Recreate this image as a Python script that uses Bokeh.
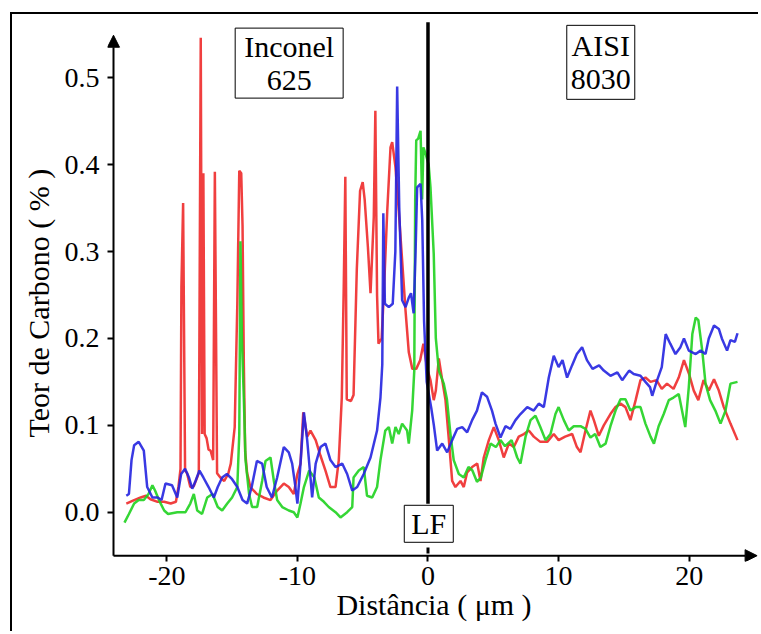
from bokeh.plotting import figure
from bokeh.models import Range1d, FixedTicker, Label, Arrow, NormalHead, Title
from bokeh.embed import file_html
from bokeh.resources import INLINE

# ---------------- data ----------------
red_x = [-23.1, -22.5, -22.0, -21.6, -21.25, -20.7, -20.2, -19.7, -19.3, -19.1, -18.95, -18.88, -18.75, -18.6,
         -18.45, -18.2, -17.93, -17.55, -17.4, -17.3, -17.2, -17.1, -16.95, -16.8, -16.65, -16.45, -16.32,
         -16.15, -15.9, -15.6, -15.3, -15.1, -14.8, -14.6, -14.45, -14.3, -14.2, -14.1, -14.0, -13.85, -13.6,
         -13.1, -12.6, -12.06, -11.55, -11.04, -10.66, -10.28, -10.0, -9.76, -9.55, -9.25, -9.0, -8.6, -8.23,
         -7.85, -7.47, -7.08, -6.83, -6.6, -6.45, -6.33, -6.22, -5.9, -5.7, -5.45, -5.2, -5.0, -4.85, -4.6,
         -4.4, -4.15, -4.03, -3.9, -3.79, -3.55, -3.38, -3.12, -2.87, -2.74, -2.49, -2.24, -1.98, -1.72, -1.47,
         -1.2, -0.9, -0.6, -0.35, -0.06, 0.19, 0.44, 0.6, 0.83, 1.09, 1.34, 1.6, 1.85, 2.1, 2.49, 2.74, 3.0,
         3.38, 3.77, 4.02, 4.27, 4.66, 5.04, 5.42, 5.8, 6.19, 6.57, 6.95, 7.34, 7.72, 8.1, 8.6, 9.13, 9.63,
         10.0, 10.5, 11.04, 11.4, 11.68, 12.06, 12.44, 12.7, 13.08, 13.46, 13.97, 14.36, 14.74, 15.12, 15.5,
         15.9, 16.27, 16.65, 17.04, 17.5, 17.9, 18.3, 18.8, 19.2, 19.6, 19.97, 20.35, 20.7, 21.1, 21.5, 21.9,
         22.27, 22.65, 23.16, 23.7]
red_y = [0.010, 0.014, 0.017, 0.019, 0.015, 0.012, 0.012, 0.010, 0.012, 0.030, 0.050, 0.260, 0.356, 0.048,
         0.045, 0.029, 0.030, 0.045, 0.546, 0.090, 0.390, 0.090, 0.085, 0.072, 0.071, 0.060, 0.392,
         0.045, 0.040, 0.036, 0.044, 0.056, 0.098, 0.240, 0.393, 0.390, 0.330, 0.170, 0.070, 0.045, 0.029,
         0.021, 0.017, 0.014, 0.025, 0.033, 0.029, 0.021, 0.044, 0.056, 0.115, 0.087, 0.094, 0.083, 0.065,
         0.048, 0.029, 0.029, 0.060, 0.132, 0.260, 0.386, 0.130, 0.128, 0.135, 0.280, 0.370, 0.380, 0.360, 0.305,
         0.252, 0.340, 0.462, 0.250, 0.194, 0.200, 0.252, 0.347, 0.420, 0.426, 0.397, 0.347, 0.290, 0.232, 0.184,
         0.165, 0.165, 0.175, 0.194, 0.165, 0.152, 0.129, 0.140, 0.177, 0.152, 0.129, 0.083, 0.036, 0.029, 0.036, 0.029, 0.046,
         0.052, 0.056, 0.036, 0.063, 0.083, 0.098, 0.083, 0.063, 0.079, 0.075, 0.087, 0.090, 0.094, 0.087, 0.081, 0.081, 0.090,
         0.083, 0.087, 0.090, 0.075, 0.069, 0.094, 0.117, 0.106, 0.088, 0.100, 0.113, 0.121, 0.125, 0.121, 0.106,
         0.129, 0.152, 0.155, 0.150, 0.152, 0.142, 0.148, 0.142, 0.155, 0.175, 0.160, 0.140, 0.129, 0.152, 0.140, 0.153,
         0.140, 0.121, 0.102, 0.083]

blue_x = [-23.1, -22.9, -22.7, -22.5, -22.15, -21.76, -21.5, -21.1, -20.7, -20.4, -20.1, -19.6, -19.2, -18.9,
          -18.6, -18.3, -18.05, -17.8, -17.5, -17.2, -16.8, -16.4, -16.1, -15.76, -15.4, -15.0, -14.6, -14.2,
          -13.85, -13.5, -13.1, -12.7, -12.35, -11.95, -11.55, -11.04, -10.66, -10.4, -10.15, -10.0, -9.76,
          -9.5, -9.25, -9.0, -8.87, -8.6, -8.23, -7.85, -7.47, -7.08, -6.57, -6.19, -5.8, -5.42, -4.92, -4.4,
          -3.9, -3.64, -3.5, -3.42, -3.3, -3.0, -2.7, -2.5, -2.36, -2.2, -1.98, -1.72, -1.47, -1.3, -1.1, -0.95,
          -0.83, -0.57, -0.44, -0.3, -0.1, 0.25, 0.45, 0.7, 1.09, 1.47, 1.85, 2.24, 2.62, 3.0, 3.38, 3.75, 4.13,
          4.52, 4.9, 5.17, 5.55, 5.93, 6.31, 6.7, 7.08, 7.6, 8.1, 8.48, 8.87, 9.25, 9.63, 10.0, 10.3, 10.65,
          11.03, 11.4, 11.8, 12.17, 12.6, 13.1, 13.46, 13.97, 14.5, 14.87, 15.4, 15.75, 16.27, 16.65, 17.0,
          17.17, 17.5, 17.9, 18.2, 18.55, 18.95, 19.33, 19.6, 19.97, 20.5, 20.87, 21.25, 21.5, 21.9, 22.27,
          22.5, 22.9, 23.16, 23.5, 23.7]
blue_y = [0.019, 0.021, 0.060, 0.077, 0.081, 0.071, 0.029, 0.017, 0.017, 0.014, 0.033, 0.031, 0.017, 0.044,
          0.050, 0.040, 0.027, 0.036, 0.048, 0.040, 0.029, 0.017, 0.029, 0.040, 0.044, 0.038, 0.029, 0.014,
          0.010, 0.029, 0.059, 0.056, 0.029, 0.017, 0.040, 0.075, 0.069, 0.056, 0.029, 0.010, 0.056,
          0.115, 0.083, 0.040, 0.017, 0.056, 0.075, 0.079, 0.060, 0.052, 0.056, 0.044, 0.025, 0.029, 0.044, 0.063,
          0.094, 0.132, 0.170, 0.344, 0.240, 0.236, 0.240, 0.300, 0.490, 0.350, 0.244, 0.236, 0.247, 0.252, 0.229, 0.300,
          0.374, 0.378, 0.336, 0.220, 0.150, 0.120, 0.100, 0.071, 0.079, 0.069, 0.083, 0.096, 0.098, 0.092, 0.106, 0.117, 0.138,
          0.133, 0.117, 0.102, 0.086, 0.099, 0.096, 0.106, 0.113, 0.121, 0.117, 0.125, 0.121, 0.155, 0.180, 0.167, 0.175, 0.155,
          0.169, 0.182, 0.190, 0.175, 0.165, 0.169, 0.163, 0.157, 0.161, 0.152, 0.163, 0.159, 0.157, 0.150, 0.144,
          0.134, 0.150, 0.167, 0.205, 0.194, 0.182, 0.190, 0.200, 0.186, 0.182, 0.186, 0.182, 0.200, 0.215, 0.211,
          0.200, 0.186, 0.198, 0.196, 0.206]

green_x = [-23.24, -22.9, -22.5, -22.15, -21.76, -21.4, -21.1, -20.9, -20.6, -20.2, -19.9, -19.2, -18.57, -18.2,
           -17.93, -17.67, -17.3, -16.9, -16.5, -16.1, -15.76, -15.37, -15.0, -14.6, -14.45, -14.36, -14.25,
           -14.1, -13.97, -13.7, -13.47, -13.08, -12.7, -12.44, -12.06, -11.8, -11.55, -11.16, -10.66, -10.28,
           -10.0, -9.76, -9.5, -9.1, -8.7, -8.36, -7.97, -7.6, -7.08, -6.7, -6.19, -5.8, -5.7, -5.3, -4.92,
           -4.67, -4.27, -3.9, -3.64, -3.27, -3.0, -2.74, -2.49, -2.24, -1.98, -1.6, -1.47, -1.21, -1.05, -0.98,
           -0.9, -0.75, -0.57, -0.45, -0.35, -0.19, 0.05, 0.19, 0.44, 0.6, 0.83, 1.21, 1.45, 1.72, 1.97, 2.36,
           2.74, 3.1, 3.4, 3.75, 4.05, 4.4, 4.79, 5.2, 5.55, 5.9, 6.4, 6.83, 7.08, 7.47, 7.85, 8.23, 8.6, 9.0,
           9.38, 9.76, 10.0, 10.4, 10.78, 11.16, 11.68, 12.06, 12.44, 12.8, 13.2, 13.6, 13.97, 14.36, 14.74,
           15.12, 15.5, 15.9, 16.27, 16.65, 17.04, 17.3, 17.66, 18.05, 18.44, 18.8, 19.2, 19.45, 19.7, 19.97,
           20.24, 20.5, 20.7, 21.0, 21.25, 21.6, 22.0, 22.4, 22.78, 23.16, 23.7]
green_y = [-0.012, -0.002, 0.010, 0.014, 0.014, 0.021, 0.031, 0.025, 0.014, 0.002, -0.002, 0.000, 0.000, 0.010,
           0.021, 0.002, -0.002, 0.017, 0.021, 0.006, 0.002, 0.010, 0.017, 0.029, 0.090, 0.312, 0.200,
           0.130, 0.060, 0.021, 0.006, 0.006, 0.036, 0.059, 0.063, 0.036, 0.014, 0.006, 0.002, 0.000,
           -0.006, 0.010, 0.029, 0.048, 0.040, 0.017, 0.012, 0.006, 0.000, -0.006, 0.000, 0.006, 0.040, 0.048, 0.052,
           0.019, 0.017, 0.029, 0.060, 0.094, 0.098, 0.079, 0.098, 0.090, 0.102, 0.094, 0.079, 0.117, 0.163, 0.360,
           0.428, 0.430, 0.439, 0.360, 0.420, 0.413, 0.400, 0.374, 0.297, 0.200, 0.163, 0.148, 0.130, 0.090, 0.060, 0.044,
           0.040, 0.052, 0.048, 0.035, 0.040, 0.060, 0.079, 0.075, 0.083, 0.076, 0.083, 0.063, 0.056, 0.087, 0.106, 0.111, 0.098, 0.083,
           0.090, 0.113, 0.121, 0.106, 0.094, 0.099, 0.099, 0.096, 0.086, 0.090, 0.075, 0.079, 0.099, 0.117, 0.130,
           0.130, 0.117, 0.121, 0.121, 0.102, 0.087, 0.079, 0.099, 0.113, 0.129, 0.132, 0.136, 0.117, 0.098, 0.144,
           0.205, 0.224, 0.221, 0.186, 0.148, 0.129, 0.117, 0.102, 0.117, 0.148, 0.150]

x_ticks = [-20, -10, 0, 10, 20]
x_tick_labels = ["-20", "-10", "0", "10", "20"]
y_ticks = [0.0, 0.1, 0.2, 0.3, 0.4, 0.5]
y_tick_labels = ["0.0", "0.1", "0.2", "0.3", "0.4", "0.5"]

interface_x = 0.0              # fusion line (LF)
interface_top = 0.564
interface_bottom = 0.0097
interface_tail = (-0.0475, -0.0406)

x_min, x_max = -24.08, 25.2    # axis extents (arrows)
y_min, y_max = -0.05, 0.549

FONT = "Liberation Serif"

p = figure(width=748, height=619,
           x_range=Range1d(-24.54, 25.46), y_range=Range1d(-0.0567, 0.5717),
           output_backend="svg", toolbar_location=None,
           min_border_left=95, min_border_top=1, min_border_right=0, min_border_bottom=72,
           background_fill_color="white", border_fill_color="white")
p.outline_line_color = None
p.xgrid.visible = False
p.ygrid.visible = False
p.styles = {"margin-left": "10px", "margin-top": "12px",
            "border-left": "2px solid black", "border-top": "2px solid black"}

# axes
p.xaxis.ticker = FixedTicker(ticks=x_ticks)
p.yaxis.ticker = FixedTicker(ticks=y_ticks)
p.xaxis.major_label_overrides = {t: s for t, s in zip(x_ticks, x_tick_labels)}
p.yaxis.major_label_overrides = {t: s for t, s in zip(y_ticks, y_tick_labels)}
for ax in (p.xaxis[0], p.yaxis[0]):
    ax.axis_line_color = None
    ax.major_tick_in = 6
    ax.major_tick_out = 0
    ax.major_tick_line_width = 2
    ax.major_tick_line_color = "black"
    ax.minor_tick_line_color = None
    ax.major_label_text_font = FONT
    ax.major_label_text_font_size = "28px"
    ax.major_label_text_color = "black"
    ax.axis_label_text_font = FONT
    ax.axis_label_text_font_size = "30px"
    ax.axis_label_text_font_style = "normal"
    ax.axis_label_text_color = "black"
p.xaxis.major_label_standoff = 5
p.xaxis.axis_label_standoff = 0
p.yaxis.major_label_standoff = 8
p.xaxis.axis_label = "Distância ( μm )"

# y axis title, placed along the left side
p.add_layout(Title(text="Teor de Carbono ( % )", align="left", offset=124, standoff=14,
                   text_font=FONT, text_font_size="30px", text_font_style="normal",
                   text_color="black"), "left")

# data lines
p.line(red_x, red_y, line_color="#ee2a2a", line_width=2.5, line_alpha=0.9)
p.line(green_x, green_y, line_color="#1fd21f", line_width=2.5, line_alpha=0.9)
p.line(blue_x, blue_y, line_color="#2323e0", line_width=2.5, line_alpha=0.9)

# fusion line
p.segment(x0=[interface_x], y0=[interface_bottom], x1=[interface_x], y1=[interface_top],
          line_color="black", line_width=3.5)
p.segment(x0=[interface_x], y0=[interface_tail[0]], x1=[interface_x], y1=[interface_tail[1]],
          line_color="black", line_width=3)

# axis lines with arrow heads
p.add_layout(Arrow(x_start=x_min, y_start=y_min, x_end=x_min, y_end=y_max, line_width=2, line_color="black",
                   end=NormalHead(size=12, fill_color="black", line_color="black")))
p.add_layout(Arrow(x_start=x_min, y_start=y_min, x_end=x_max, y_end=y_min, line_width=2, line_color="black",
                   end=NormalHead(size=12, fill_color="black", line_color="black")))

# boxed labels
def boxed(x, y, text, pad):
    return Label(x=x, y=y, text=text, text_align="center", text_baseline="middle",
                 text_font=FONT, text_font_size="30px", text_color="black", text_line_height=1.0,
                 border_line_color="black", border_line_width=1, background_fill_color="white",
                 padding=pad)

p.add_layout(boxed(-10.63, 0.5169, "Inconel\n625", (9, 2)))
p.add_layout(boxed(13.23, 0.5178, "AISI\n8030", (4, 4)))
p.add_layout(boxed(0.06, -0.0133, "LF", (7, 2)))

open("out.html", "w").write(file_html(p, INLINE))
